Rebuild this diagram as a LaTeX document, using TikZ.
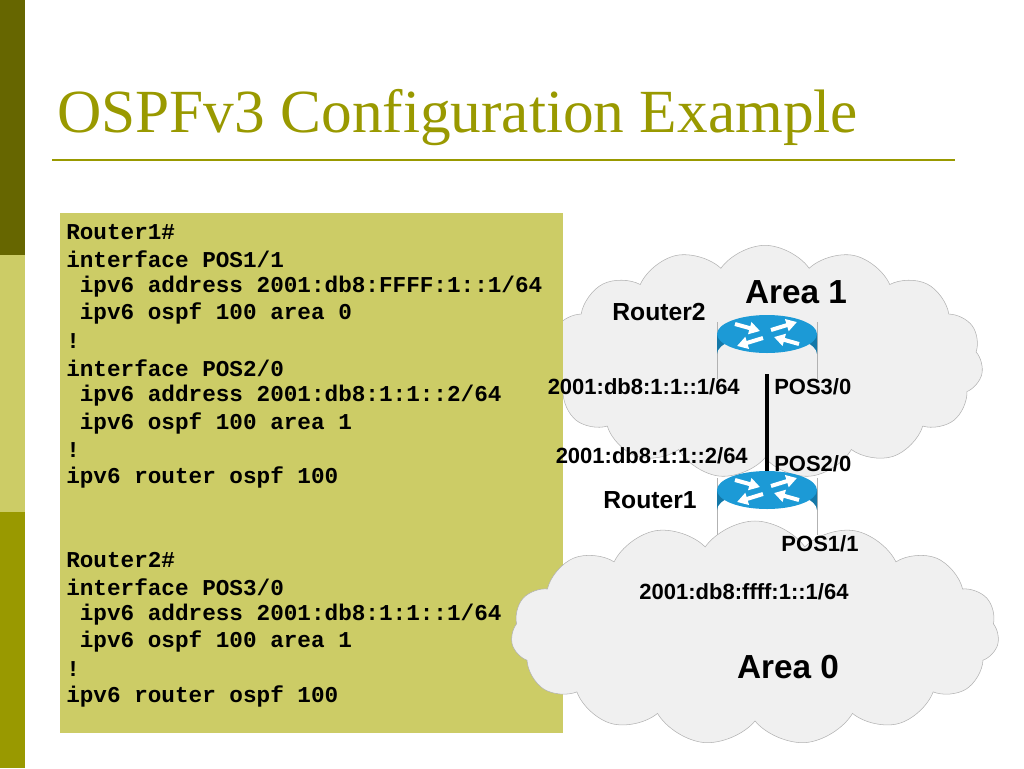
\documentclass[tikz,border=0pt]{standalone}
\usepackage{fontspec}
\setmainfont{Liberation Serif}
\setsansfont{Liberation Sans}
\setmonofont{Liberation Mono}
\usetikzlibrary{shapes.symbols, positioning, arrows.meta}
\definecolor{olivedark}{HTML}{666600}
\definecolor{olivemid}{HTML}{999900}
\definecolor{olivelight}{HTML}{CCCC66}
\definecolor{routerblue}{HTML}{1C9AD6}
\definecolor{routerdark}{HTML}{1478A8}
\tikzset{
  codeline/.style={anchor=west, inner sep=0pt, font=\ttfamily\bfseries\fontsize{17}{20}\selectfont},
  netlabel/.style={inner sep=0pt, font=\sffamily\bfseries\fontsize{16.5}{19}\selectfont},
  routerlabel/.style={inner sep=0pt, font=\sffamily\bfseries\fontsize{18.5}{21}\selectfont},
  arealabel/.style={inner sep=0pt, font=\sffamily\bfseries\fontsize{25}{28}\selectfont},
  areacloud/.style={cloud, cloud puffs=15, cloud puff arc=110, aspect=1.9, draw=gray!60, fill=gray!12, inner sep=0pt},
  routerarrow/.style={white, line width=3pt, -{Triangle[length=8pt,width=9pt]}}
}
% draws one router icon, #1 = centre of the top face
\newcommand{\routericon}[2]{%
  \begin{scope}[shift={#1}]
    \draw[gray!60, thin] (-50,-12) -- (-50,45) (50,-12) -- (50,45);
    \fill[routerdark] (-50,0) -- (-50,20) arc[start angle=180, end angle=360, x radius=50, y radius=19] -- (50,0) -- cycle;
    \fill[routerblue] (0,0) ellipse[x radius=50, y radius=19];
    \draw[routerarrow] (-32,-10) -- (-7,-3);
    \draw[routerarrow] (32,10) -- (7,3);
    \draw[routerarrow] (-4,4) -- (-30,12);
    \draw[routerarrow] (4,-4) -- (30,-12);
    \coordinate (#2-top) at (0,-19);
    \coordinate (#2-bot) at (0,40);
  \end{scope}}

\begin{document}
\begin{tikzpicture}[x=0.75pt, y=-0.75pt]
  \useasboundingbox (0,0) rectangle (1024,768);

  % side bar
  \fill[olivedark] (0,0) rectangle (25,255);
  \fill[olivelight] (0,255) rectangle (25,512);
  \fill[olivemid] (0,512) rectangle (25,768);

  % title
  \node[anchor=west, inner sep=0pt, text=olivemid, font=\fontsize{46}{52}\selectfont] (title) at (57,118) {OSPFv3 Configuration Example};
  \draw[olivemid, line width=1.5pt] (52,160) -- (955,160);

  % area 1 sits behind the code box, area 0 in front of it
  \node[areacloud, minimum width=327, minimum height=175] (area1) at (765,362) {};

  % configuration
  \fill[olivelight] (60,213) rectangle (563,733);
  \foreach \i/\txt in {0/{Router1\#}, 1/{interface POS1/1}, 2/{ ipv6 address 2001:db8:FFFF:1::1/64},
      3/{ ipv6 ospf 100 area 0}, 4/!, 5/{interface POS2/0}, 6/{ ipv6 address 2001:db8:1:1::2/64},
      7/{ ipv6 ospf 100 area 1}, 8/!, 9/{ipv6 router ospf 100}, 12/{Router2\#}, 13/{interface POS3/0},
      14/{ ipv6 address 2001:db8:1:1::1/64}, 15/{ ipv6 ospf 100 area 1}, 16/!, 17/{ipv6 router ospf 100}}
    \node[codeline] (code\i) at (66,{232+27.3*\i}) {\obeyspaces\txt};

  \node[areacloud, minimum width=366, minimum height=168] (area0) at (755,633) {};

  % routers
  \routericon{(767,334)}{rtwo}
  \routericon{(767,490)}{rone}
  \draw[line width=3pt] (rtwo-bot) -- (rone-top);

  % labels
  \node[arealabel] (area1lbl) at (796,292) {Area 1};
  \node[arealabel] (area0lbl) at (788,667) {Area 0};
  \node[routerlabel] (rtwolbl) at (659,312) {Router2};
  \node[routerlabel] (ronelbl) at (650,500) {Router1};
  \node[netlabel, anchor=east] (ip21) at (740,387) {2001:db8:1:1::1/64};
  \node[netlabel, anchor=west] (pos30) at (774,387) {POS3/0};
  \node[netlabel, anchor=east] (ip12) at (748,456) {2001:db8:1:1::2/64};
  \node[netlabel, anchor=west] (pos20) at (774,464) {POS2/0};
  \node[netlabel] (pos11) at (820,544) {POS1/1};
  \node[netlabel] (ipff) at (744,592) {2001:db8:ffff:1::1/64};
\end{tikzpicture}
\end{document}
